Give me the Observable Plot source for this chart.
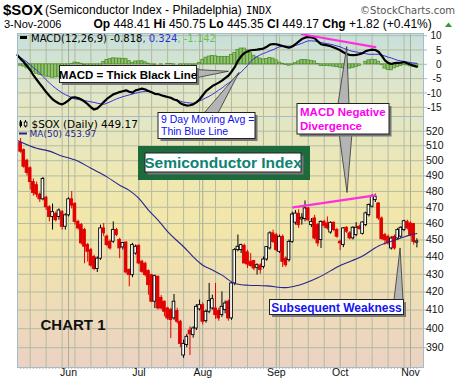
<!DOCTYPE html>
<html><head><meta charset="utf-8">
<script src="https://cdn.jsdelivr.net/npm/d3@7"></script>
<script src="https://cdn.jsdelivr.net/npm/@observablehq/plot@0.6"></script>
<style>
body{margin:0;background:#fff;}
#wrap{position:relative;width:460px;height:383px;overflow:hidden;}
#wrap svg,#wrap .bg{position:absolute;left:0;}
</style></head><body><div id="wrap"></div>
<script>
// ---------- data ----------
const holidays = ["2006-05-29","2006-07-04","2006-09-04"];
const opens = [512,507,500,495,486,484,478,475,476,470,
464,466,464,467,458,465,475,472,461,459,
456,447,444,440,433,439,457,452,449,449,
456,450,445.6,448.5,432.4,429.5,442,446.6,437.2,436,
431.8,429.5,414.6,428.5,416.7,414.6,410.9,410,405.5,409.5,
403.7,386,391.4,399,396.6,400.1,410.4,412.7,404,409.1,
410.9,410.9,409.5,407.3,410,414.6,405.5,424.8,444,444,
446.5,442.7,437.2,437.6,433.7,435,434.2,438.5,445,454,
452.9,443,451.9,439,438.1,448.9,460.5,466,462.5,462.7,
469.3,459,463.1,459,450,461,460,454.5,460.4,456,
449,447,457.4,454,451,453,458,453.7,459,465.1,
470.4,474.5,472.4,463,452.9,451.9,445,451.9,450.9,452,
456,461,460,459.6,448.41];
const highs = [515,508,501,496,488,486,479,489,477,471,
472,467,469,468,466,476,480,473,462,460,
457,448,445,441,440,459,460,453,450,461,
457,451,448.5,449,433,448,447,447,438,437,
432.5,430,429.5,429,418,415,411.5,411,418.6,411,
404.5,394,397,401,401,413,415.5,414,410,424.8,
418.2,424.8,411,420,415,415.5,425.5,445,453,447.5,
447.5,444,442,438,436,436,440,446,455,456,
454,453,453,440,450,467,468,468.5,466,474,
470,463,465,460,461.5,462,464,461,461,457,
450,457.5,458,455,458,460.5,459,461,467,472,
478,478.3,473,464,454,453,452,453,457,458,
462,462,461,460,450.75];
const lows = [505,495,490,481,477,476,473,474,468,461,
456,461,462,456,456,464,469,459,456,447,
436,437,434,432,431,438,452,446,444,448,
452,439,444,430,422.9,428,441,435.5,430.5,428.5,
418.2,414,410.9,410,410,406.4,404.5,394.8,404.5,402.5,
390,384.5,390,386,395,399,409.5,402,403,408,
410,405,404,406,408,404,404.5,423.5,443,442,
436,433.3,434,432,429.5,430,433,437.5,444,448,
443,442,433.9,434,437,448,459,457,459,461,
461,457.5,450,446,445,457,456,453.5,455,451,
443.7,445.5,454,450,450,452,456,453,458,464,
469.5,473,462,450,447,447,444,444,450,451,
455,456,452,447,445.35];
const closes = [506,496,492,486,479,478,475,488,470,464,
467,462,468,458,465,475,471,461,457,448,
446,443,435,433,439,457,454,447,445,456,
453,445,448.2,431,429.5,447,446,436.2,431.4,429.5,
423.8,414.6,428.9,410.9,410.9,409.1,405.5,404.6,414.6,403.7,
392,392,395.7,397,400.1,411.8,412.7,403.7,409.1,415,
416,407.3,405.5,411.8,413.6,405.5,424.8,444,446,447,
436.2,435.6,434.8,433.3,435.2,432.5,438.5,445.8,454,448.9,
444,451.9,437.2,435.2,448.9,465.5,466.1,459,463.5,469.3,
462,461,450.9,448,461,458.6,457,460.4,456,452,
448,457,455,451,457.4,457.4,456.6,460.6,466.2,471.5,
476.8,476.6,463.1,450.5,449.9,448,450.9,445,456,457.4,
461.4,457,452.9,448.9,449.17];
// MACD and signal, from the day before the first candle (day -1) to the last day
const macdValues = [3.2,1.9,0.8,-0.6,-2.0,-3.8,-5.3,-6.8,-8.2,-9.7,
-11.0,-12.2,-13.0,-13.7,-14.0,-13.4,-12.6,-11.6,-11.5,-11.8,
-12.3,-13.0,-13.9,-15.0,-15.8,-15.4,-14.4,-13.2,-12.1,-11.3,
-10.5,-10.1,-9.7,-9.4,-9.1,-9.6,-9.9,-9.1,-8.8,-8.5,
-8.8,-9.3,-9.8,-10.3,-10.4,-10.8,-11.1,-11.4,-11.7,-12.3,
-12.6,-13.6,-14.1,-14.4,-14.3,-14.0,-13.3,-12.3,-10.8,-9.4,
-8.5,-7.6,-7.0,-6.4,-5.7,-4.8,-4.0,-2.6,-1.0,1.2,
2.8,3.9,4.5,4.9,5.0,5.1,5.3,5.5,6.1,6.9,
7.1,7.0,6.7,6.4,6.1,5.8,6.2,7.0,7.9,8.8,
9.3,9.6,9.4,9.1,8.0,7.0,6.8,6.6,6.3,5.9,
5.4,4.9,4.2,3.6,3.3,3.2,3.3,3.5,3.9,4.6,
4.9,5.1,5.0,4.4,3.0,1.4,0.5,0.1,0.4,0.5,
0.6,0.8,0.4,-0.1,-0.5,-0.818];
const signalValues = [3.2,2.4,1.6,0.8,-0.2,-1.2,-2.0,-3.1,-4.3,-5.4,
-6.5,-7.5,-8.4,-9.2,-10.0,-10.6,-11.1,-11.7,-12.1,-12.3,
-12.5,-12.7,-12.9,-13.1,-13.3,-13.6,-13.8,-14.0,-13.6,-13.1,
-12.6,-12.1,-11.7,-11.3,-11.0,-10.7,-10.4,-10.1,-9.8,-9.6,
-9.5,-9.5,-9.7,-10.1,-10.4,-10.7,-11.1,-11.5,-11.8,-12.2,
-12.6,-12.9,-13.2,-13.4,-13.5,-13.6,-13.2,-12.8,-12.3,-11.7,
-11.2,-10.5,-9.8,-9.0,-8.3,-7.4,-6.6,-5.9,-5.0,-3.8,
-2.7,-1.6,-0.4,1.0,2.0,2.7,3.3,3.8,4.2,4.7,
5.1,5.6,6.1,6.2,6.3,6.3,6.4,6.6,6.9,7.3,
7.8,8.2,8.2,8.1,7.9,7.6,7.4,7.2,7.0,6.7,
6.4,6.1,5.6,5.2,4.8,4.5,4.3,4.1,3.9,3.7,
3.5,3.5,3.5,3.5,3.2,2.9,2.5,2.2,1.8,1.4,
1.2,1.0,0.8,0.6,0.45,0.324];
const maDays   = [-0.8,5,9,12,18,22,27,31,34,37,40,43,46,51,54,57,60,63,67,71,77,83,87,93,100,107,112,118,121,124];
const maValues = [513.4,508.3,506.4,503.8,499.7,495,489.4,484,480.7,475.6,468.3,462.1,455,446,440.1,435.2,432.5,429.5,424.8,423.8,423.4,422.4,423.8,428,435,440.5,446.5,450.5,452.5,453.97];
const divergenceDays  = [85.3,111];
const divergencePrice = [470,477.5];
const divergenceMacdDays = [88,111];
const divergenceMacd  = [10.5,6.0];
const priceTicks = [520,510,500,490,480,470,460,450,440,430,420,410,400,390];
const macdTicks  = [10,5,0,-5,-10,-15];

// ---------- trading calendar ----------
const days = [];
for (let d = new Date(Date.UTC(2006,4,10)); d <= new Date(Date.UTC(2006,10,3)); d.setUTCDate(d.getUTCDate()+1)) {
  const wd = d.getUTCDay(), s = d.toISOString().slice(0,10);
  if (wd === 0 || wd === 6 || holidays.includes(s)) continue;
  days.push(new Date(d));
}
const dayIdx = days.map((d,i)=>i);
const monthIdx = dayIdx.filter(i => i>0 && days[i].getUTCMonth() !== days[i-1].getUTCMonth());
const weekIdx = dayIdx.filter(i => i>0 && days[i].getUTCDay() < days[i-1].getUTCDay() && !monthIdx.includes(i));
const fmtMonth = d3.utcFormat("%b");

const candles = days.map((d,i)=>{const o=opens[i], c=closes[i];
  return {i, o, c, h: Math.max(highs[i],o,c), l: Math.min(lows[i],o,c),
    col: c>=o ? "#000000" : "#e00000", body: c>=o ? "#ffffff" : "#e00000"};});
const macdRows = macdValues.map((m,k)=>({i:k-1, m, s:signalValues[k], h:m-signalValues[k]}));
const maRows = maDays.map((d,k)=>({i:d, v:maValues[k]}));
const divPriceRows = divergenceDays.map((d,k)=>({i:d, v:divergencePrice[k]}));
const divMacdRows = divergenceMacdDays.map((d,k)=>({i:d, v:divergenceMacd[k]}));

// ---------- layout ----------
const W = 460, L = 17, R = 37;
const macdTop = 33, panelSplit = 116, priceBottom = 367;
const xDomain = [-0.97, 126.07];
const gridC = "#b5baa0", monthGridC = "#a5ad98", frameC = "#a3bccb";
const font = "'Liberation Sans', Arial, sans-serif";
const wrap = d3.select("#wrap");

wrap.append("div").attr("class","bg")
  .style("left",L+"px").style("top",macdTop+"px").style("width",(W-L-R)+"px").style("height",(panelSplit-macdTop)+"px")
  .style("background","linear-gradient(#c6e0dc, #dde6cc 60%, #e6e7bf)");
wrap.append("div").attr("class","bg")
  .style("left",L+"px").style("top",panelSplit+"px").style("width",(W-L-R)+"px").style("height",(priceBottom-panelSplit)+"px")
  .style("background","linear-gradient(#e2e6c6, #efe8b2 25%, #f2e6a9 45%, #eedcb8 75%, #ebd2c4)");

const macdPlot = Plot.plot({
  width: W, height: panelSplit, marginTop: macdTop, marginBottom: 0, marginLeft: L, marginRight: R,
  style: {background: "transparent", fontFamily: font, fontSize: "10.5px", overflow: "visible"},
  x: {type: "linear", domain: xDomain, axis: null},
  y: {domain: [-18.23, 10.76], axis: null},
  marks: [
    Plot.ruleY(macdTicks, {stroke: gridC}),
    Plot.ruleX(weekIdx, {stroke: gridC}),
    Plot.ruleX(monthIdx, {stroke: monthGridC}),
    Plot.rect(macdRows, {x1: d=>d.i-0.46, x2: d=>d.i+0.46, y1: 0, y2: "h", fill: "#93c36e", stroke: "#4f8f30", strokeWidth: 0.8}),
    Plot.line(macdRows, {x: "i", y: "s", stroke: "#3a2ee0", strokeWidth: 1}),
    Plot.line(macdRows, {x: "i", y: "m", stroke: "#000", strokeWidth: 2.2}),
    Plot.line(divMacdRows, {x: "i", y: "v", stroke: "#ff2ee0", strokeWidth: 2.2}),
    Plot.frame({stroke: frameC}),
    Plot.axisY(macdTicks, {anchor: "right", tickSize: 3, tickFormat: () => "", stroke: frameC, label: null}),
    Plot.text(macdTicks, {y: d=>d, text: d=>String(d), frameAnchor: "right", dx: 18, dy: 0.5, textAnchor: "end", fill: "#111", fontSize: 10})
  ]
});
d3.select(macdPlot).style("top","0px");
wrap.node().appendChild(macdPlot);

const pricePlot = Plot.plot({
  width: W, height: 383-panelSplit, marginTop: 0, marginBottom: 383-priceBottom, marginLeft: L, marginRight: R,
  style: {background: "transparent", fontFamily: font, fontSize: "10.5px", overflow: "visible"},
  x: {type: "linear", domain: xDomain, axis: null},
  y: {type: "log", domain: [379.9, 530.25], axis: null},
  color: {type: "identity"},
  marks: [
    Plot.ruleY(priceTicks, {stroke: gridC}),
    Plot.ruleX(weekIdx, {stroke: gridC}),
    Plot.ruleX(monthIdx, {stroke: monthGridC}),
    Plot.ruleX(candles, {x: "i", y1: "l", y2: "h", stroke: "col", strokeWidth: 1}),
    Plot.rect(candles, {x1: d=>d.i-0.42, x2: d=>d.i+0.42, y1: "o", y2: "c", fill: "body", stroke: "col", strokeWidth: 0.9}),
    Plot.line(maRows, {x: "i", y: "v", stroke: "#25258f", strokeWidth: 1.1, curve: "monotone-x"}),
    Plot.line(divPriceRows, {x: "i", y: "v", stroke: "#ff2ee0", strokeWidth: 2.2}),
    Plot.frame({stroke: frameC}),
    Plot.axisY(priceTicks, {anchor: "right", tickSize: 3, tickFormat: () => "", stroke: frameC, label: null}),
    Plot.text(priceTicks, {y: d=>d, text: d=>String(d), frameAnchor: "right", dx: 20, textAnchor: "end", fill: "#111", fontSize: 10.5}),
    Plot.axisX(dayIdx, {anchor: "bottom", tickSize: 2, tickFormat: () => "", stroke: frameC, label: null}),
    Plot.text(monthIdx, {x: d=>d, text: d=>fmtMonth(days[d]), frameAnchor: "bottom", dy: 8, fill: "#111", fontSize: 10.5})
  ]
});
d3.select(pricePlot).style("top", panelSplit+"px");
wrap.node().appendChild(pricePlot);

// ---------- overlay: header, legends, callouts ----------
const mx = v => macdPlot.scale("x").apply(v), my = v => macdPlot.scale("y").apply(v);
const px = v => pricePlot.scale("x").apply(v), py = v => pricePlot.scale("y").apply(v) + panelSplit;
const ov = wrap.append("svg").attr("width", W).attr("height", 383).style("top","0px");
function txt(x, y, s, o = {}) {
  return ov.append("text").attr("x", x).attr("y", y).text(s)
    .attr("font-family", o.ff || font).attr("font-size", o.fs || 11)
    .attr("font-weight", o.fw || "normal").attr("fill", o.fill || "#000")
    .attr("text-anchor", o.anchor || "start");
}
txt(3, 14.5, "$SOX", {fs: 15, fw: "bold"});
txt(45, 14, "(Semiconductor Index - Philadelphia)", {fs: 12});
txt(246, 14, "INDX", {ff: "'DejaVu Sans Mono', monospace", fs: 10.5});
txt(455, 14, "\u00a9StockCharts.com", {ff: "'DejaVu Sans', sans-serif", fs: 10, fill: "#555", anchor: "end"});
txt(4, 28, "3-Nov-2006", {fs: 11});
const ohlc = ov.append("text").attr("x", 93.5).attr("y", 27.8).attr("font-family", font).attr("font-size", 12).attr("xml:space","preserve");
[["Op",1],[" 448.41 ",0],["Hi",1],[" 450.75 ",0],["Lo",1],[" 445.35 ",0],["Cl",1],[" 449.17 ",0],["Chg",1],[" +1.82 (+0.41%)",0]]
  .forEach(([s,b]) => ohlc.append("tspan").attr("font-weight", b ? "bold" : "normal").text(s));
ov.append("path").attr("d","M445,27 L448.5,22.5 L452,27 Z").attr("fill","#2f9a2f");

// MACD legend
ov.append("rect").attr("x",20).attr("y",36).attr("width",7).attr("height",3).attr("fill","#000");
const ml = ov.append("text").attr("x",31).attr("y",41.5).attr("font-family","'DejaVu Sans', sans-serif").attr("font-size",10).attr("xml:space","preserve");
ml.append("tspan").attr("fill","#000").text("MACD(12,26,9) -0.818");
ml.append("tspan").attr("fill","#3030d0").text(", 0.324");
ml.append("tspan").attr("fill","#6cbf4a").text(", -1.142");
// price legend
ov.append("line").attr("x1",20.5).attr("x2",20.5).attr("y1",120).attr("y2",127.5).attr("stroke","#000");
ov.append("rect").attr("x",19.5).attr("y",121.5).attr("width",2.5).attr("height",4.5).attr("fill","#000");
ov.append("line").attr("x1",25.5).attr("x2",25.5).attr("y1",120).attr("y2",127.5).attr("stroke","#000");
ov.append("rect").attr("x",24.3).attr("y",122).attr("width",2.6).attr("height",4).attr("fill","#fff").attr("stroke","#000").attr("stroke-width",0.9);
txt(31.5, 127.5, "$SOX (Daily) 449.17", {ff: "'DejaVu Sans', sans-serif", fs: 10.5});
ov.append("rect").attr("x",19).attr("y",132.5).attr("width",8).attr("height",2).attr("fill","#25258f");
txt(29.5, 137.2, "MA(50) 453.97", {ff: "'DejaVu Sans', sans-serif", fs: 9, fill: "#25258f"});

function tail(b1, b2, tip) {
  ov.append("path").attr("d", `M${b1[0]},${b1[1]} L${tip[0]},${tip[1]} L${b2[0]},${b2[1]} Z`)
    .attr("fill", "#b4b4b4").attr("stroke", "#333").attr("stroke-width", 0.8);
}
function box(x, y, w, h) {
  ov.append("rect").attr("x", x+2.5).attr("y", y+2.5).attr("width", w).attr("height", h).attr("fill", "#777");
  ov.append("rect").attr("x", x).attr("y", y).attr("width", w).attr("height", h).attr("fill", "#fff").attr("stroke", "#222").attr("stroke-width", 1);
}
// callout tips in data units
const tipThick = [mx(65.2), my(-2.6)], tipNine = [mx(68.5), my(-3.0)];
const tipDivTop = [mx(102.2), my(6.0)], tipDivBottom = [px(102.3), py(479)];
const tipWeak = [px(118.9), py(445)];

tail([195, 69.5], [195, 78], tipThick);
box(59.5, 65.5, 137, 17);
txt(128, 78.5, "MACD = Thick Black Line", {fs: 11.5, fw: "bold", anchor: "middle"});

tail([204, 113], [218, 113], tipNine);
box(158, 112.5, 97, 26);
txt(161, 123, "9 Day Moving Avg =", {fs: 10.5, fill: "#1010ee"});
txt(161, 135, "Thin Blue Line", {fs: 10.5, fill: "#1010ee"});

ov.append("rect").attr("x",138).attr("y",146).attr("width",172).attr("height",34).attr("fill","#1d6b3c");
box(145, 153, 156, 19);
txt(223, 168, "Semiconductor Index", {fs: 15.5, fw: "bold", fill: "#0e8272", anchor: "middle"});

tail([338, 104], [349, 104], tipDivTop);
tail([339, 133], [352, 133], tipDivBottom);
box(297, 103.5, 92, 30.5);
txt(300, 116, "MACD Negative", {fs: 11.5, fw: "bold", fill: "#ff00ee"});
txt(300, 130, "Divergence", {fs: 11.5, fw: "bold", fill: "#ff00ee"});

tail([394, 300], [403, 300], tipWeak);
box(269.5, 299.5, 134, 15);
txt(336.5, 311.5, "Subsequent Weakness", {fs: 12, fw: "bold", fill: "#1515ee", anchor: "middle"});

txt(40.5, 330, "CHART 1", {fs: 15, fw: "bold", fill: "#111"});
</script></body></html>
